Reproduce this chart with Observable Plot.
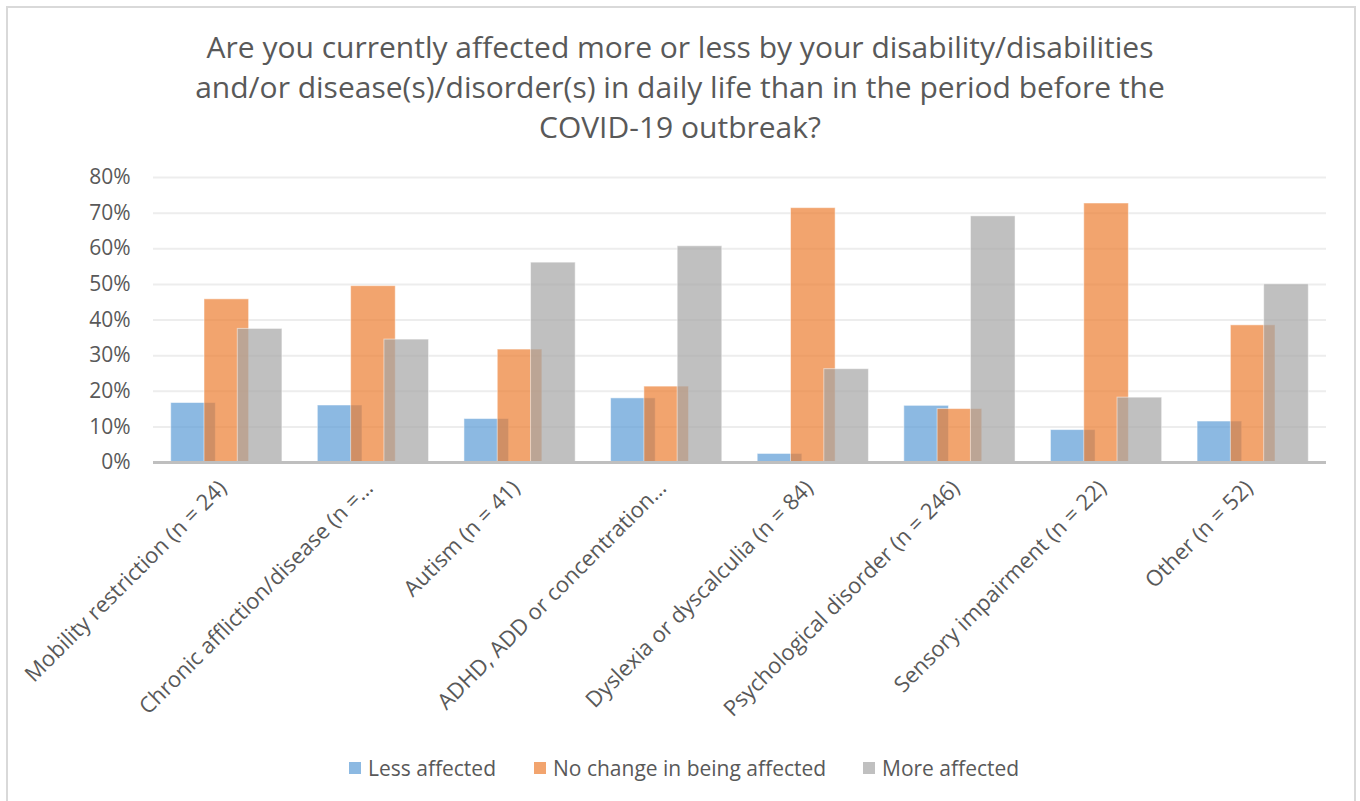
<!DOCTYPE html>
<html>
<head>
<meta charset="utf-8">
<script src="https://cdn.jsdelivr.net/npm/d3@7"></script>
<script src="https://cdn.jsdelivr.net/npm/@observablehq/plot@0.6"></script>
<style>
  body { margin: 0; background: #fff; width: 1360px; height: 801px; overflow: hidden; position: relative;
         font-family: "Open Sans", sans-serif; color: #595959; }
  #frame { position: absolute; left: 6px; top: 6px; width: 1350px; height: 830px;
           border: 2px solid #D9D9D9; box-sizing: border-box; }
  #title { position: absolute; left: 0; top: 27px; width: 1360px; text-align: center;
           font-size: 30px; line-height: 40px; color: #595959; }
  #chart { position: absolute; left: 0; top: 150px; }
  .item { position: absolute; top: 755px; font-size: 21px; line-height: 26px; white-space: nowrap; }
  .sw { position: absolute; top: 7px; width: 12px; height: 12px; }
</style>
</head>
<body>
<div id="frame"></div>
<div id="title">Are you currently affected more or less by your disability/disabilities<br>and/or disease(s)/disorder(s) in daily life than in the period before the<br>COVID-19 outbreak?</div>
<div id="chart"></div>
<div id="legend"></div>
<script>
// Disability / disorder groups shown along the x axis
const categories = [
  "Mobility restriction (n = 24)",
  "Chronic affliction/disease (n =…",
  "Autism (n = 41)",
  "ADHD, ADD or concentration…",
  "Dyslexia or dyscalculia (n = 84)",
  "Psychological disorder (n = 246)",
  "Sensory impairment (n = 22)",
  "Other (n = 52)"
];

// Share of respondents per answer (%)
const seriesNames = ["Less affected", "No change in being affected", "More affected"];
const lessAffected = [16.7, 16.0, 12.2, 18.0, 2.4, 15.9, 9.1, 11.5];
const noChange     = [45.8, 49.5, 31.7, 21.3, 71.4, 15.0, 72.7, 38.5];
const moreAffected = [37.5, 34.5, 56.1, 60.7, 26.2, 69.1, 18.2, 50.0];

const yTicks = [0, 10, 20, 30, 40, 50, 60, 70, 80];
const colors = ["#5B9BD5", "#ED7D31", "#A5A5A5"];

const seriesValues = [lessAffected, noChange, moreAffected];
const rows = seriesNames.flatMap((s, si) =>
  categories.map((c, i) => ({category: c, series: s, value: seriesValues[si][i]})));

// Overlapping clustered bars: each series shifted within the category band
const offsets = [-33.3, 0, 33.3];
const barMarks = seriesNames.map((s, si) =>
  Plot.barY(rows.filter(d => d.series === s), {
    x: "category", y: "value",
    fill: colors[si], fillOpacity: 0.7,
    stroke: "#fff", strokeOpacity: 0.5, strokeWidth: 1,
    insetLeft: 51, insetRight: 51, dx: offsets[si]
  }));

const chart = Plot.plot({
  width: 1360, height: 590,
  marginLeft: 153, marginRight: 34, marginTop: 27, marginBottom: 278,
  style: {fontFamily: "'Open Sans', sans-serif", fontSize: "18px", color: "#595959", background: "transparent"},
  x: {domain: categories, padding: 0, round: false, label: null},
  y: {domain: [0, 80], label: null},
  marks: [
    Plot.ruleY(yTicks.filter(t => t > 0), {stroke: "#EDEDED", strokeWidth: 2}),
    Plot.axisY(yTicks, {tickSize: 0, tickPadding: 23, tickFormat: d => d + "%", fontSize: 21, label: null}),
    Plot.axisX({tickSize: 0, tickPadding: 22, dx: -4, tickRotate: -45, fontSize: 22, label: null}),
    ...barMarks,
    Plot.ruleY([0], {stroke: "#BFBFBF", strokeWidth: 3})
  ]
});
document.getElementById("chart").append(chart);

// Legend below the plot
const legendLefts = [349, 534, 863];
const legend = document.getElementById("legend");
seriesNames.forEach((s, i) => {
  const item = document.createElement("div");
  item.className = "item";
  item.style.left = legendLefts[i] + "px";
  item.innerHTML = `<span class="sw" style="left:0;background:${colors[i]};opacity:0.7"></span><span style="margin-left:19px">${s}</span>`;
  legend.append(item);
});
</script>
</body>
</html>
